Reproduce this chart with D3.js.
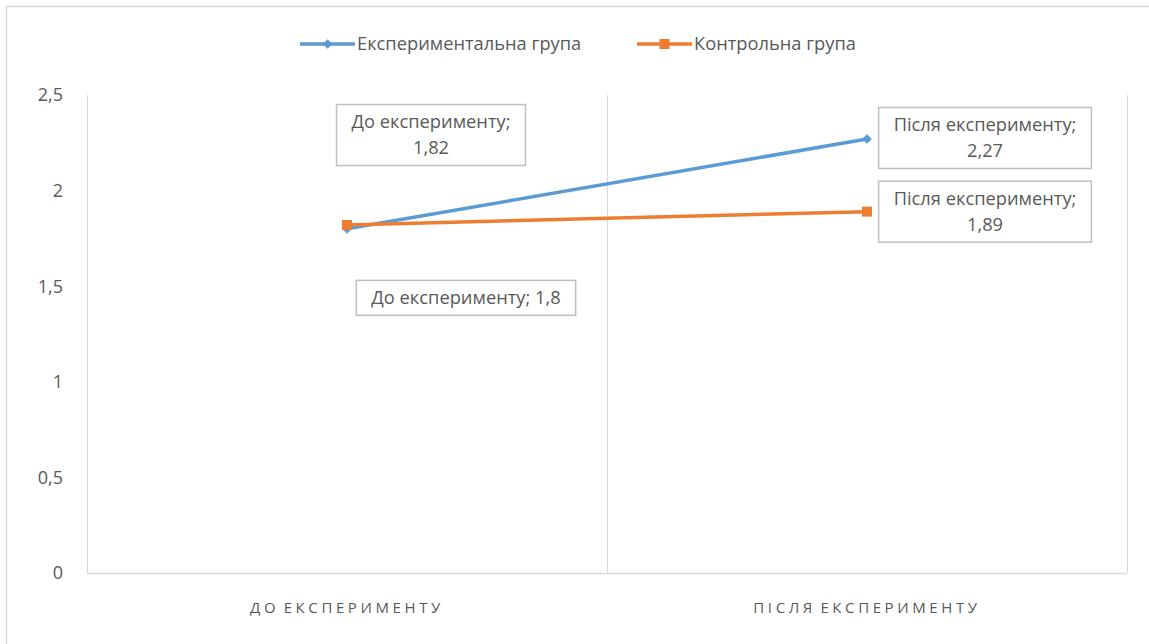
<!DOCTYPE html>
<html>
<head>
<meta charset="utf-8">
<script src="https://cdn.jsdelivr.net/npm/d3@7"></script>
<style>
  body { margin: 0; background: #fff; }
  svg text { font-family: "Open Sans", "Liberation Sans", sans-serif; fill: #595959; }
</style>
</head>
<body>
<svg id="chart" width="1149" height="644"></svg>
<script>
var categories = ["До експерименту", "Після експерименту"];
var seriesNames = ["Експериментальна група", "Контрольна група"];
var expValues = [1.8, 2.27];
var ctrlValues = [1.82, 1.89];
var yTicks = [0, 0.5, 1, 1.5, 2, 2.5];

var svg = d3.select("#chart"),
    margin = {top: 95, right: 22, bottom: 71, left: 87},
    width = +svg.attr("width") - margin.left - margin.right,
    height = +svg.attr("height") - margin.top - margin.bottom;

var fmt = function(v) { return String(v).replace(".", ","); };

// outer frame
svg.append("rect")
    .attr("x", 6.5).attr("y", 6.5)
    .attr("width", 1200).attr("height", 700)
    .attr("fill", "none").attr("stroke", "#d9d9d9").attr("stroke-width", 1.5);

var x = d3.scaleBand().domain(categories).range([0, width]);
var y = d3.scaleLinear().domain([0, 2.5]).range([height, 0]);

var g = svg.append("g")
    .attr("transform", "translate(" + margin.left + "," + margin.top + ")");

// category separators
var bounds = [0].concat(categories.map(function(c) { return x(c) + x.bandwidth(); }));
g.selectAll(".sep")
    .data(bounds)
  .enter().append("line")
    .attr("x1", function(d) { return d + 0.5; })
    .attr("x2", function(d) { return d + 0.5; })
    .attr("y1", 0).attr("y2", height)
    .attr("stroke", "#d9d9d9").attr("stroke-width", 1);

// x axis line
g.append("line")
    .attr("x1", 0).attr("x2", width)
    .attr("y1", height + 0.5).attr("y2", height + 0.5)
    .attr("stroke", "#d9d9d9").attr("stroke-width", 1.5);

// y tick labels
g.selectAll(".ytick")
    .data(yTicks)
  .enter().append("text")
    .attr("x", -24)
    .attr("y", function(d) { return y(d); })
    .attr("dy", "0.35em")
    .attr("text-anchor", "end")
    .style("font-size", "18px")
    .text(fmt);

// x tick labels
g.selectAll(".xtick")
    .data(categories)
  .enter().append("text")
    .attr("x", function(d) { return x(d) + x.bandwidth() / 2; })
    .attr("y", height + 40)
    .attr("text-anchor", "middle")
    .style("font-size", "15px")
    .style("letter-spacing", "3.6px")
    .style("word-spacing", "-3px")
    .text(function(d) { return d.toUpperCase(); });

var series = [
  {name: seriesNames[0], values: expValues, color: "#5b9bd5", marker: "diamond"},
  {name: seriesNames[1], values: ctrlValues, color: "#ed7d31", marker: "square"}
];

var line = d3.line()
    .x(function(d, i) { return x(categories[i]) + x.bandwidth() / 2; })
    .y(function(d) { return y(d); });

function drawMarker(sel, type, color) {
  if (type === "diamond") {
    sel.append("path")
      .attr("d", d3.symbol().type(d3.symbolDiamond2).size(60)())
      .attr("fill", color);
  } else {
    sel.append("rect")
      .attr("x", -5).attr("y", -5).attr("width", 10).attr("height", 10)
      .attr("fill", color);
  }
}

series.forEach(function(s) {
  g.append("path")
    .datum(s.values)
    .attr("fill", "none")
    .attr("stroke", s.color)
    .attr("stroke-width", 3.5)
    .attr("d", line);
  s.values.forEach(function(v, i) {
    var m = g.append("g")
      .attr("transform", "translate(" + (x(categories[i]) + x.bandwidth() / 2) + "," + y(v) + ")");
    drawMarker(m, s.marker, s.color);
  });
});

// data labels: [series index, point index, dx, dy, one line?]
var labelPlacement = [
  [0, 0, 119, 69, true],
  [0, 1, 118, -1, false],
  [1, 0, 84, -90, false],
  [1, 1, 118, 0, false]
];

labelPlacement.forEach(function(p) {
  var s = series[p[0]], i = p[1];
  var cx = x(categories[i]) + x.bandwidth() / 2 + p[2];
  var cy = y(s.values[i]) + p[3];
  var lines = p[4] ? [categories[i] + "; " + fmt(s.values[i])]
                   : [categories[i] + ";", fmt(s.values[i])];
  var lg = g.append("g").attr("transform", "translate(" + cx + "," + cy + ")");
  var box = lg.append("rect");
  var t = lg.append("text").attr("text-anchor", "middle").style("font-size", "18.3px");
  var lh = 26;
  lines.forEach(function(l, k) {
    t.append("tspan")
      .attr("x", 0)
      .attr("y", (k - (lines.length - 1) / 2) * lh)
      .attr("dy", "0.35em")
      .text(l);
  });
  var w = d3.max(t.selectAll("tspan").nodes(), function(n) { return n.getComputedTextLength(); }) + 30;
  var h = lines.length * lh + 9;
  box.attr("x", -w / 2).attr("y", -h / 2).attr("width", w).attr("height", h)
    .attr("fill", "#fff").attr("stroke", "#bfbfbf").attr("stroke-width", 1.5);
});

// legend
var legendItems = [
  {x: 300, s: series[0]},
  {x: 637, s: series[1]}
];
legendItems.forEach(function(it) {
  var lg = svg.append("g").attr("transform", "translate(" + it.x + ",44)");
  lg.append("line").attr("x1", 0).attr("x2", 55).attr("y1", 0).attr("y2", 0)
    .attr("stroke", it.s.color).attr("stroke-width", 3.5);
  var m = lg.append("g").attr("transform", "translate(27.5,0)");
  drawMarker(m, it.s.marker, it.s.color);
  lg.append("text").attr("x", 57).attr("dy", "0.35em")
    .style("font-size", "18.3px").text(it.s.name);
});
</script>
</body>
</html>
